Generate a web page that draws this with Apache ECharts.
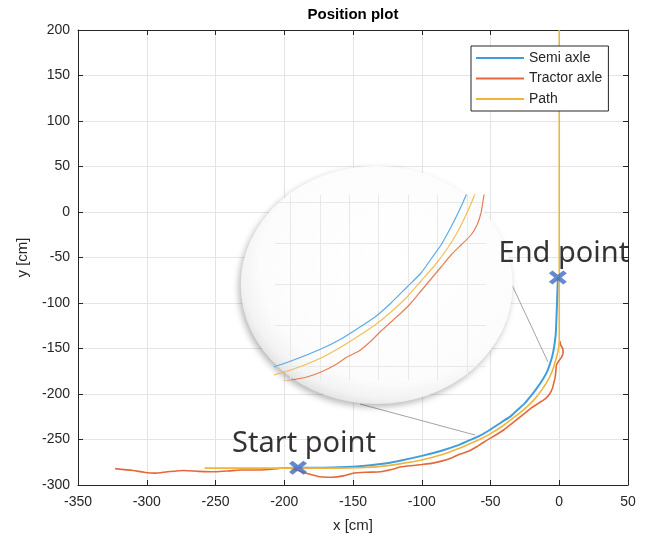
<!DOCTYPE html>
<html>
<head>
<meta charset="utf-8">
<script src="https://cdn.jsdelivr.net/npm/echarts@6/dist/echarts.min.js"></script>
<style>
  html, body { margin: 0; padding: 0; background: #fff; }
  #chart { width: 652px; height: 540px; }
</style>
</head>
<body>
<div id="chart"></div>
<script>
// values, [x, y] in cm
const semiAxle = [
  [-195, -281], [-175, -281], [-160, -280.5], [-145, -279.5], [-130, -277], [-115, -273],
  [-100, -268], [-85, -262], [-75, -257], [-67, -252], [-58, -246], [-50, -239],
  [-42, -231], [-35, -224], [-30, -217], [-25, -210], [-20, -201], [-16, -193],
  [-12, -184], [-9, -176], [-7, -168], [-5, -158], [-3.5, -146], [-2.5, -133],
  [-2, -115], [-1.5, -95], [-1, -72],
];
const tractorAxle = [
  [-323, -282], [-310, -284], [-302, -286], [-294, -287], [-285, -285.5], [-273, -284],
  [-262, -285], [-250, -285.5], [-240, -284.5], [-232, -283.5], [-218, -283.5], [-205, -282],
  [-198, -281], [-190, -284], [-182, -288], [-174, -291], [-165, -291.5], [-157, -290],
  [-150, -287], [-140, -286], [-130, -285.5], [-122, -283], [-115, -280], [-106, -278.5],
  [-100, -277.5], [-92, -276], [-85, -273.5], [-78, -270], [-72, -266], [-66, -263],
  [-60, -258], [-55, -253], [-50, -248.5], [-45, -244], [-40, -239], [-35, -233],
  [-30, -227], [-25, -221], [-20, -215], [-15, -210], [-10, -205], [-7, -200],
  [-5, -194], [-4, -188], [-3, -182], [-2.5, -175], [-2, -168], [-0.5, -164],
  [1.5, -160], [2.8, -155], [2.5, -150], [1, -146], [0.5, -142],
];
const pathLine = [
  [-258, -281.5], [-220, -281.5], [-180, -281.5], [-160, -281.5], [-145, -281], [-130, -279.5],
  [-115, -276.5], [-100, -272.5], [-85, -266.5], [-75, -261], [-67, -256], [-58, -250],
  [-50, -243.5], [-42, -236], [-35, -228], [-28, -220], [-22, -212], [-17, -204],
  [-13, -196], [-9, -187], [-6, -178], [-4, -170], [-2.5, -162], [-1.2, -155],
  [-0.3, -148], [0, -140], [0, -100], [0, 200],
];
const startPoint = [-190, -281];
const endPoint = [-1, -72];

const seriesNames = ['Semi axle', 'Tractor axle', 'Path'];
const colors = ['#3f9ddf', '#e4683a', '#f0b43c'];
const lines = [semiAxle, tractorAxle, pathLine];

const xRange = [-350, 50];
const yRange = [-300, 200];
const step = 50;

// the magnifier shows the bend of the curves
const zoomX = [-108, -2.5];
const zoomY = [-277.5, -185];

const font = '"Liberation Sans", Arial, sans-serif';
const axisColor = '#262626';

const chart = echarts.init(document.getElementById('chart'));

const X_CROSS = 'path://M4,0 L10,6 L16,0 L20,4 L14,10 L20,16 L16,20 L10,14 L4,20 L0,16 L6,10 L0,4 Z';

const mainAxis = (extra) => Object.assign({
  type: 'value',
  gridIndex: 0,
  interval: step,
  axisLine: { show: true, onZero: false, lineStyle: { color: axisColor, width: 1 } },
  axisTick: { show: true, inside: true, length: 5, lineStyle: { color: axisColor } },
  axisLabel: { color: axisColor, fontSize: 14, fontFamily: font },
  splitLine: { show: false },
}, extra);

const option = {
  animation: false,
  backgroundColor: '#fff',
  grid: [
    { left: 78, right: 24, top: 30, bottom: 55 },
    { left: 275, top: 195, width: 211, height: 185 },
  ],
  xAxis: [
    mainAxis({
      min: xRange[0], max: xRange[1], position: 'bottom',
      axisLabel: { color: axisColor, fontSize: 14, fontFamily: font, margin: 10 },
      splitLine: { show: true, lineStyle: { color: '#e4e4e4' } },
      name: 'x [cm]', nameLocation: 'middle', nameGap: 33,
      nameTextStyle: { color: axisColor, fontSize: 15, fontFamily: font },
    }),
    mainAxis({ min: xRange[0], max: xRange[1], position: 'top', axisLabel: { show: false } }),
    { type: 'value', gridIndex: 1, show: false, min: zoomX[0], max: zoomX[1] },
    {
      type: 'value', gridIndex: 1, min: -0.524, max: 6.653, minInterval: 1, maxInterval: 1,
      z: 2, axisLine: { show: false }, axisTick: { show: false }, axisLabel: { show: false },
      splitLine: { show: true, showMinLine: false, showMaxLine: false, lineStyle: { color: '#e8e8e8' } },
    },
  ],
  yAxis: [
    mainAxis({
      min: yRange[0], max: yRange[1], position: 'left',
      axisLabel: { color: axisColor, fontSize: 14, fontFamily: font, margin: 8 },
      splitLine: { show: true, lineStyle: { color: '#e4e4e4' } },
      name: 'y [cm]', nameLocation: 'middle', nameGap: 48,
      nameTextStyle: { color: axisColor, fontSize: 15, fontFamily: font },
    }),
    mainAxis({ min: yRange[0], max: yRange[1], position: 'right', axisLabel: { show: false } }),
    { type: 'value', gridIndex: 1, show: false, min: zoomY[0], max: zoomY[1] },
    {
      type: 'value', gridIndex: 1, min: -0.324, max: 4.188, minInterval: 1, maxInterval: 1,
      z: 2, axisLine: { show: false }, axisTick: { show: false }, axisLabel: { show: false },
      splitLine: { show: true, showMinLine: false, showMaxLine: false, lineStyle: { color: '#e8e8e8' } },
    },
  ],
  legend: {
    data: seriesNames,
    orient: 'vertical',
    left: 471,
    top: 46,
    icon: 'rect',
    itemWidth: 48,
    itemHeight: 2,
    itemGap: 6.5,
    padding: [5, 6, 5, 5],
    backgroundColor: '#fff',
    borderColor: axisColor,
    borderWidth: 1,
    borderRadius: 0,
    textStyle: { color: axisColor, fontSize: 14, fontFamily: font },
  },
  graphic: [
    {
      type: 'text', x: 353, y: 15, z: 10,
      style: {
        text: 'Position plot', font: 'bold 15px ' + font, fill: '#000',
        align: 'center', verticalAlign: 'middle', textAlign: 'center', textVerticalAlign: 'middle',
      },
    },
    {
      type: 'line', z: 1,
      shape: { x1: 360, y1: 404, x2: 475, y2: 435 },
      style: { stroke: '#8c8c8c', lineWidth: 0.8 },
    },
    {
      type: 'line', z: 1,
      shape: { x1: 512, y1: 285, x2: 548, y2: 362 },
      style: { stroke: '#8c8c8c', lineWidth: 0.8 },
    },
    {
      type: 'circle', z: 1,
      x: 376.7, y: 285, scaleX: 136 / 119,
      shape: { cx: 0, cy: 0, r: 119 },
      style: {
        fill: {
          type: 'radial', x: 0.56, y: 0.42, r: 0.62,
          colorStops: [
            { offset: 0, color: '#ffffff' },
            { offset: 0.78, color: '#fcfcfc' },
            { offset: 0.9, color: '#f3f3f3' },
            { offset: 1, color: '#dcdcdc' },
          ],
        },
        shadowBlur: 6,
        shadowOffsetX: -2,
        shadowOffsetY: 3,
        shadowColor: 'rgba(0,0,0,0.28)',
      },
    },
  ],
  series: [
    ...lines.map((data, i) => ({
      name: seriesNames[i],
      type: 'line',
      xAxisIndex: 0,
      yAxisIndex: 0,
      data: data,
      color: colors[i],
      showSymbol: false,
      symbol: 'none',
      smooth: 0.2,
      lineStyle: { color: colors[i], width: i === 0 ? 2 : 1.6 },
      z: 3,
    })),
    ...lines.map((data, i) => ({
      name: seriesNames[i] + ' (zoom)',
      type: 'line',
      xAxisIndex: 2,
      yAxisIndex: 2,
      data: data,
      color: colors[i],
      showSymbol: false,
      symbol: 'none',
      smooth: 0.2,
      clip: true,
      lineStyle: { color: colors[i], width: 1.2, opacity: 0.85 },
      z: 4,
    })),
    {
      name: 'points',
      type: 'scatter',
      xAxisIndex: 0,
      yAxisIndex: 0,
      symbol: X_CROSS,
      symbolSize: [18, 14],
      itemStyle: { color: '#3f6cc4' },
      z: 6,
      label: {
        show: true,
        position: 'top',
        distance: 2,
        color: '#000',
        fontSize: 29,
        fontFamily: '"Noto Sans", "Open Sans", sans-serif',
      },
      data: [
        { value: endPoint, label: { formatter: 'End point', offset: [6, 0] } },
        { value: startPoint, label: { formatter: 'Start point', offset: [6, 0] } },
      ],
    },
  ],
};

chart.setOption(option);
window.addEventListener('resize', chart.resize);
</script>
</body>
</html>
